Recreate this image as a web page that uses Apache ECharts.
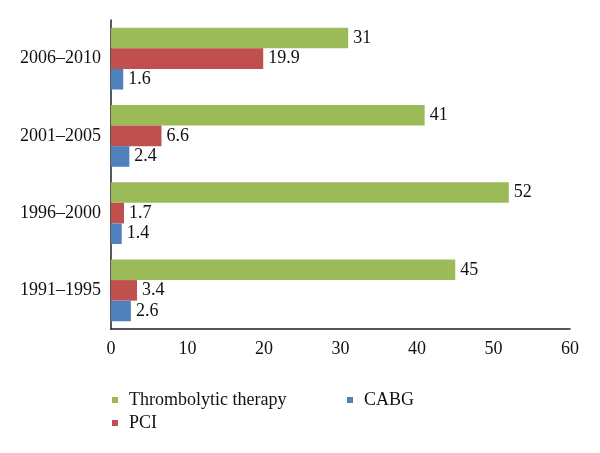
<!DOCTYPE html>
<html>
<head>
<meta charset="utf-8">
<script src="https://cdn.jsdelivr.net/npm/echarts@6/dist/echarts.min.js"></script>
<style>html,body{margin:0;padding:0;background:#fff}#c{width:600px;height:453px}</style>
</head>
<body>
<div id="c"></div>
<script>
var categories = ['1991–1995', '1996–2000', '2001–2005', '2006–2010'];
var thrombolytic = [45, 52, 41, 31];
var pci = [3.4, 1.7, 6.6, 19.9];
var cabg = [2.6, 1.4, 2.4, 1.6];
var xTicks = [0, 10, 20, 30, 40, 50, 60];

var font = 'Liberation Serif';
var lbl = { show: true, position: 'right', distance: 5, color: '#111', fontFamily: font, fontSize: 18 };
var chart = echarts.init(document.getElementById('c'));
chart.setOption({
  animation: false,
  textStyle: { fontFamily: font },
  grid: { left: 111, right: 30, top: 20, bottom: 124, containLabel: false },
  xAxis: {
    type: 'value', min: xTicks[0], max: xTicks[xTicks.length - 1], interval: 10,
    axisLine: { show: true, lineStyle: { color: '#222', width: 1.5 } },
    axisTick: { show: false }, splitLine: { show: false },
    axisLabel: { color: '#111', fontFamily: font, fontSize: 18, margin: 11 }
  },
  yAxis: {
    type: 'category', data: categories,
    axisLine: { show: true, lineStyle: { color: '#222', width: 1.5 } },
    axisTick: { show: false },
    axisLabel: { color: '#111', fontFamily: font, fontSize: 18, margin: 10 }
  },
  legend: [
    { data: ['Thrombolytic therapy', 'PCI'], orient: 'vertical', left: 107, top: 386, itemWidth: 6, itemHeight: 6, itemGap: 5, icon: 'rect',
      textStyle: { color: '#111', fontFamily: font, fontSize: 18, padding: [0, 0, 0, 6] } },
    { data: ['CABG'], orient: 'vertical', left: 342, top: 386, itemWidth: 6, itemHeight: 6, icon: 'rect',
      textStyle: { color: '#111', fontFamily: font, fontSize: 18, padding: [0, 0, 0, 6] } }
  ],
  series: [
    { name: 'Thrombolytic therapy', type: 'bar', data: thrombolytic, itemStyle: { color: '#9bbb59' }, label: lbl, barGap: '0%', barCategoryGap: '20%' },
    { name: 'PCI', type: 'bar', data: pci, itemStyle: { color: '#c0504d' }, label: lbl, barGap: '0%', barCategoryGap: '20%' },
    { name: 'CABG', type: 'bar', data: cabg, itemStyle: { color: '#4f81bd' }, label: lbl, barGap: '0%', barCategoryGap: '20%' }
  ]
});
</script>
</body>
</html>
